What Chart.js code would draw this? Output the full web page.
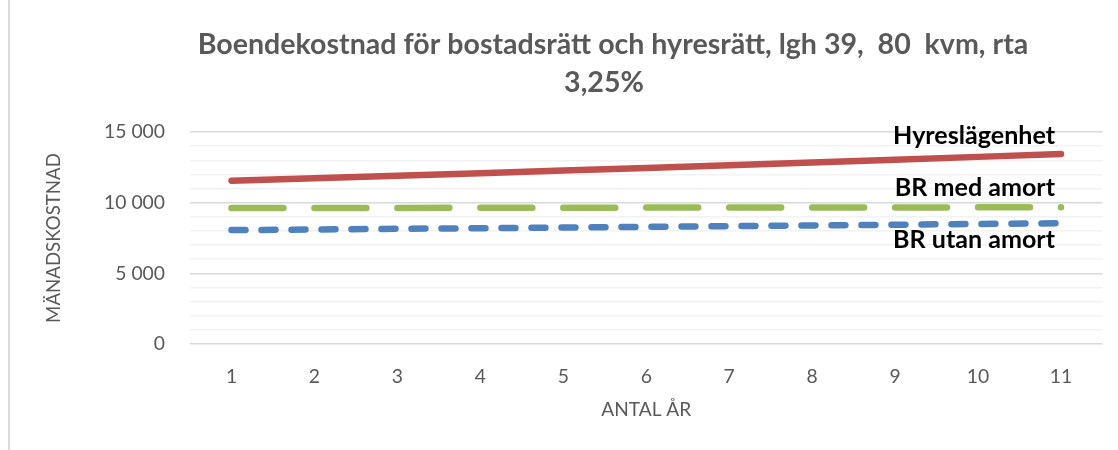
<!DOCTYPE html>
<html><head><meta charset="utf-8">
<script src="https://cdn.jsdelivr.net/npm/chart.js@4/dist/chart.umd.min.js"></script>
<style>html,body{margin:0;padding:0;background:#fff}#wrap{width:1118px;height:450px;position:relative}</style>
</head><body><div id="wrap"><canvas id="c" width="1118" height="450"></canvas></div>
<script>
const years = ['1','2','3','4','5','6','7','8','9','10','11'];
const hyres = [11550, 11730, 11910, 12090, 12280, 12460, 12650, 12850, 13040, 13240, 13440];
const brMed = [9620, 9630, 9630, 9640, 9640, 9650, 9650, 9660, 9660, 9670, 9670];
const brUtan = [8060, 8100, 8150, 8190, 8240, 8290, 8340, 8390, 8440, 8490, 8540];
const seriesNames = ['Hyreslägenhet', 'BR med amort', 'BR utan amort'];
const titleLines = ['Boendekostnad för bostadsrätt och hyresrätt, lgh 39,  80  kvm, rta', '3,25%'];
const yTitle = 'MÄNADSKOSTNAD';
const xTitle = 'ANTAL ÅR';

const FAM = 'Lato, "Liberation Sans", sans-serif';
const mctx = document.createElement('canvas').getContext('2d');
function fit(text, target, weight) {
  mctx.font = weight + ' 100px ' + FAM;
  return 100 * target / mctx.measureText(text).width;
}
const titleSize = fit(titleLines[0], 831, 'bold');
const labelSize = fit('Hyreslägenhet', 162, 'bold');
const tickSize = fit('15 000', 61, 'normal');
const yTitleSize = fit(yTitle, 170, 'normal');
const xTitleSize = fit(xTitle, 90, 'normal');
const fmt = v => String(v).replace(/\B(?=(\d{3})+(?!\d))/g, ' ');

const labelOffsets = [-10, -11, 25];
const decoPlugin = {
  id: 'deco',
  beforeDraw(chart) {
    const ctx = chart.ctx;
    ctx.save();
    ctx.fillStyle = '#fff';
    ctx.fillRect(0, 0, chart.width, chart.height);
    ctx.strokeStyle = '#D9D9D9';
    ctx.lineWidth = 2;
    ctx.beginPath(); ctx.moveTo(9, 0); ctx.lineTo(9, 450); ctx.stroke();
    ctx.fillStyle = '#595959';
    ctx.font = 'bold ' + titleSize + 'px ' + FAM;
    ctx.textAlign = 'center';
    ctx.textBaseline = 'middle';
    ctx.fillText(titleLines[0], 613, 45);
    ctx.fillText(titleLines[1], 604, 83);
    ctx.restore();
  },
  afterDatasetsDraw(chart) {
    const ctx = chart.ctx;
    ctx.save();
    ctx.fillStyle = '#000';
    ctx.font = 'bold ' + labelSize + 'px ' + FAM;
    ctx.textAlign = 'right';
    ctx.textBaseline = 'alphabetic';
    chart.data.datasets.forEach((ds, i) => {
      const m = chart.getDatasetMeta(i);
      const p = m.data[m.data.length - 1];
      ctx.fillText(ds.label, p.x - 6, p.y + labelOffsets[i]);
    });
    ctx.restore();
  }
};

new Chart(document.getElementById('c'), {
  type: 'line',
  data: {
    labels: years,
    datasets: [
      {label: seriesNames[0], data: hyres, borderColor: '#C0504D', borderWidth: 6.5, borderCapStyle: 'round', borderJoinStyle: 'round', pointRadius: 0, tension: 0, fill: false},
      {label: seriesNames[1], data: brMed, borderColor: '#9BBB59', borderWidth: 6.5, borderDash: [52, 30.95], borderCapStyle: 'round', borderJoinStyle: 'round', pointRadius: 0, tension: 0, fill: false},
      {label: seriesNames[2], data: brUtan, borderColor: '#4F81BD', borderWidth: 6.5, borderDash: [14, 16], borderCapStyle: 'round', borderJoinStyle: 'round', pointRadius: 0, tension: 0, fill: false}
    ]
  },
  options: {
    responsive: false, animation: false, devicePixelRatio: 1,
    layout: {padding: {top: 132, right: 15.5, bottom: 0, left: 0}},
    plugins: {legend: {display: false}, title: {display: false}, tooltip: {enabled: false}},
    scales: {
      x: {
        offset: true,
        grid: {display: false, drawTicks: false},
        border: {display: false},
        ticks: {color: '#595959', font: {family: FAM, size: tickSize}, padding: 33 - 0.6 * tickSize, maxRotation: 0},
        title: {display: true, text: xTitle, color: '#595959', font: {family: FAM, size: xTitleSize}, padding: {top: 0, bottom: 40 - 0.6 * xTitleSize}},
        afterFit(s) { s.height = 106; }
      },
      y: {
        min: 0, max: 15000,
        ticks: {stepSize: 1000, autoSkip: false, callback: v => (v % 5000 === 0 ? fmt(v) : ''), color: '#595959', font: {family: FAM, size: tickSize}, padding: 25},
        grid: {color: c => (c.tick && c.tick.value % 5000 === 0 ? '#D9D9D9' : '#F2F2F2'), lineWidth: 1.5, drawTicks: false},
        border: {display: false},
        title: {display: true, text: yTitle, color: '#595959', font: {family: FAM, size: yTitleSize}, padding: {top: 54 - 0.6 * yTitleSize, bottom: 0}},
        afterFit(s) { s.width = 190; }
      }
    }
  },
  plugins: [decoPlugin]
});
</script></body></html>
